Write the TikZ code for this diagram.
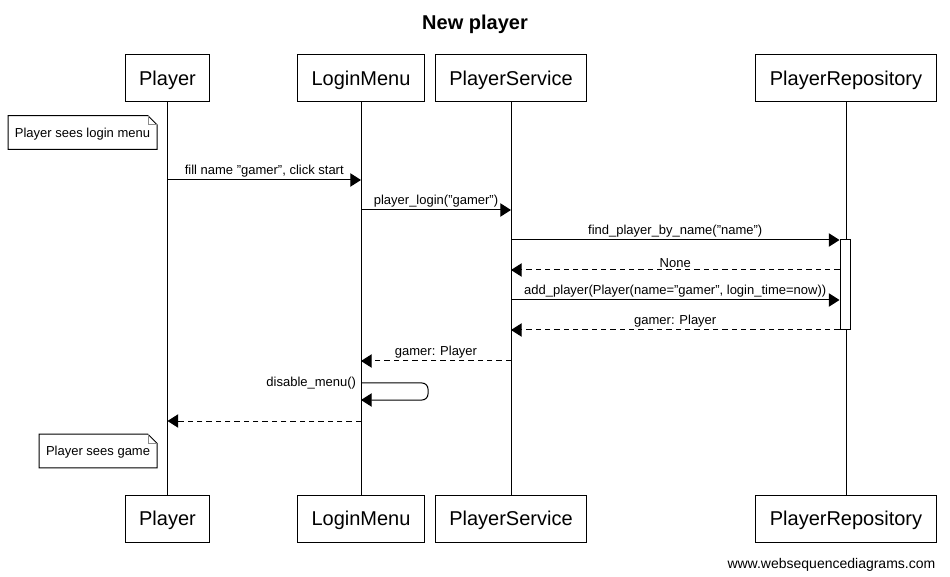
\documentclass[tikz,border=0pt]{standalone}
\usepackage{fontspec}
\setmainfont{Liberation Sans}
\usetikzlibrary{arrows.meta,calc}
% note box with a folded corner, drawn round a named node
\newcommand\notefold[1]{%
  \draw[line width=0.75pt] (#1.south west) |- ($(#1.north east)+(-9,0)$) -- ($(#1.north east)+(0,-9)$) |- cycle;
  \draw[line width=0.6pt, black!45] ($(#1.north east)+(-9,0)$) |- ($(#1.north east)+(0,-9)$);}

\begin{document}
\begin{tikzpicture}[x=0.75pt, y=0.75pt, >={Triangle[length=8pt,width=10pt]},
  font=\fontsize{9.75}{12}\selectfont,
  actor/.style={draw, line width=0.75pt, minimum height=35.25pt, inner xsep=10.5pt, text depth=0pt, font=\fontsize{15}{18}\selectfont},
  life/.style={line width=0.75pt},
  msg/.style={->, line width=0.75pt},
  reply/.style={msg, dash pattern=on 4pt off 3pt},
  note/.style={anchor=east, minimum height=24.75pt, inner xsep=5pt, inner ysep=0pt, text depth=0pt},
  lbl/.style={above, inner sep=1.5pt},
  act/.style={draw, fill=white, line width=0.75pt, minimum width=7.5pt, minimum height=67.5pt, inner sep=0pt}]
\useasboundingbox (0,0) rectangle (950,-577);
\node[font=\fontsize{15}{18}\selectfont\bfseries] (title) at (475,-24) {New player};
% ---------------- participants
\node[actor] (pT) at (167.5,-78.5) {Player};
\node[actor] (lT) at (361,-78.5) {LoginMenu};
\node[actor] (sT) at (511,-78.5) {PlayerService};
\node[actor] (rT) at (846,-78.5) {PlayerRepository};
\node[actor] (pB) at (167.5,-518.5) {Player};
\node[actor] (lB) at (361,-518.5) {LoginMenu};
\node[actor] (sB) at (511,-518.5) {PlayerService};
\node[actor] (rB) at (846,-518.5) {PlayerRepository};
\draw[life] (pT) -- (pB); \draw[life] (lT) -- (lB);
\draw[life] (sT) -- (sB); \draw[life] (rT) -- (rB);
\node[act] (act) at (845,-285) {};
% ---------------- rows of the messages
\coordinate (r1) at (0,-180); \coordinate (r2) at (0,-210);
\coordinate (r3) at (0,-240); \coordinate (r4) at (0,-270);
\coordinate (r5) at (0,-300); \coordinate (r6) at (0,-330);
\coordinate (r7) at (0,-361); \coordinate (r8) at (0,-383);
\coordinate (r8b) at (0,-400); \coordinate (r9) at (0,-421);
% ---------------- notes
\node[note] (n1) at (157,-132.5) {Player sees login menu};
\notefold{n1}
\node[note] (n2) at (157,-451) {Player sees game};
\notefold{n2}
% ---------------- messages
\draw[msg] (pT |- r1) -- node[lbl] (m1) {fill name "gamer", click start} (lT |- r1);
\draw[msg] (lT |- r2) -- node[lbl] (m2) {player\_login("gamer")} (sT |- r2);
\draw[msg] (sT |- r3) -- node[lbl] (m3) {find\_player\_by\_name("name")} (act.west |- r3);
\draw[reply] (act.west |- r4) -- node[lbl] (m4) {None} (sT |- r4);
\draw[msg] (sT |- r5) -- node[lbl] (m5) {add\_player(Player(name="gamer", login\_time=now))} (act.west |- r5);
\draw[reply] (act.west |- r6) -- node[lbl] (m6) {gamer: Player} (sT |- r6);
\draw[reply] (sT |- r7) -- node[lbl] (m7) {gamer: Player} (lT |- r7);
\draw[msg, rounded corners=4.5pt] (lT |- r8) node[left] (m8) {disable\_menu()} -- ++(67,0) -- ++(0,-17) -- (lT |- r8b);
\draw[reply] (lT |- r9) -- (pT |- r9);
\node[anchor=east, font=\fontsize{10.5}{12}\selectfont] (site) at (940,-565) {www.websequencediagrams.com};
\end{tikzpicture}
\end{document}
